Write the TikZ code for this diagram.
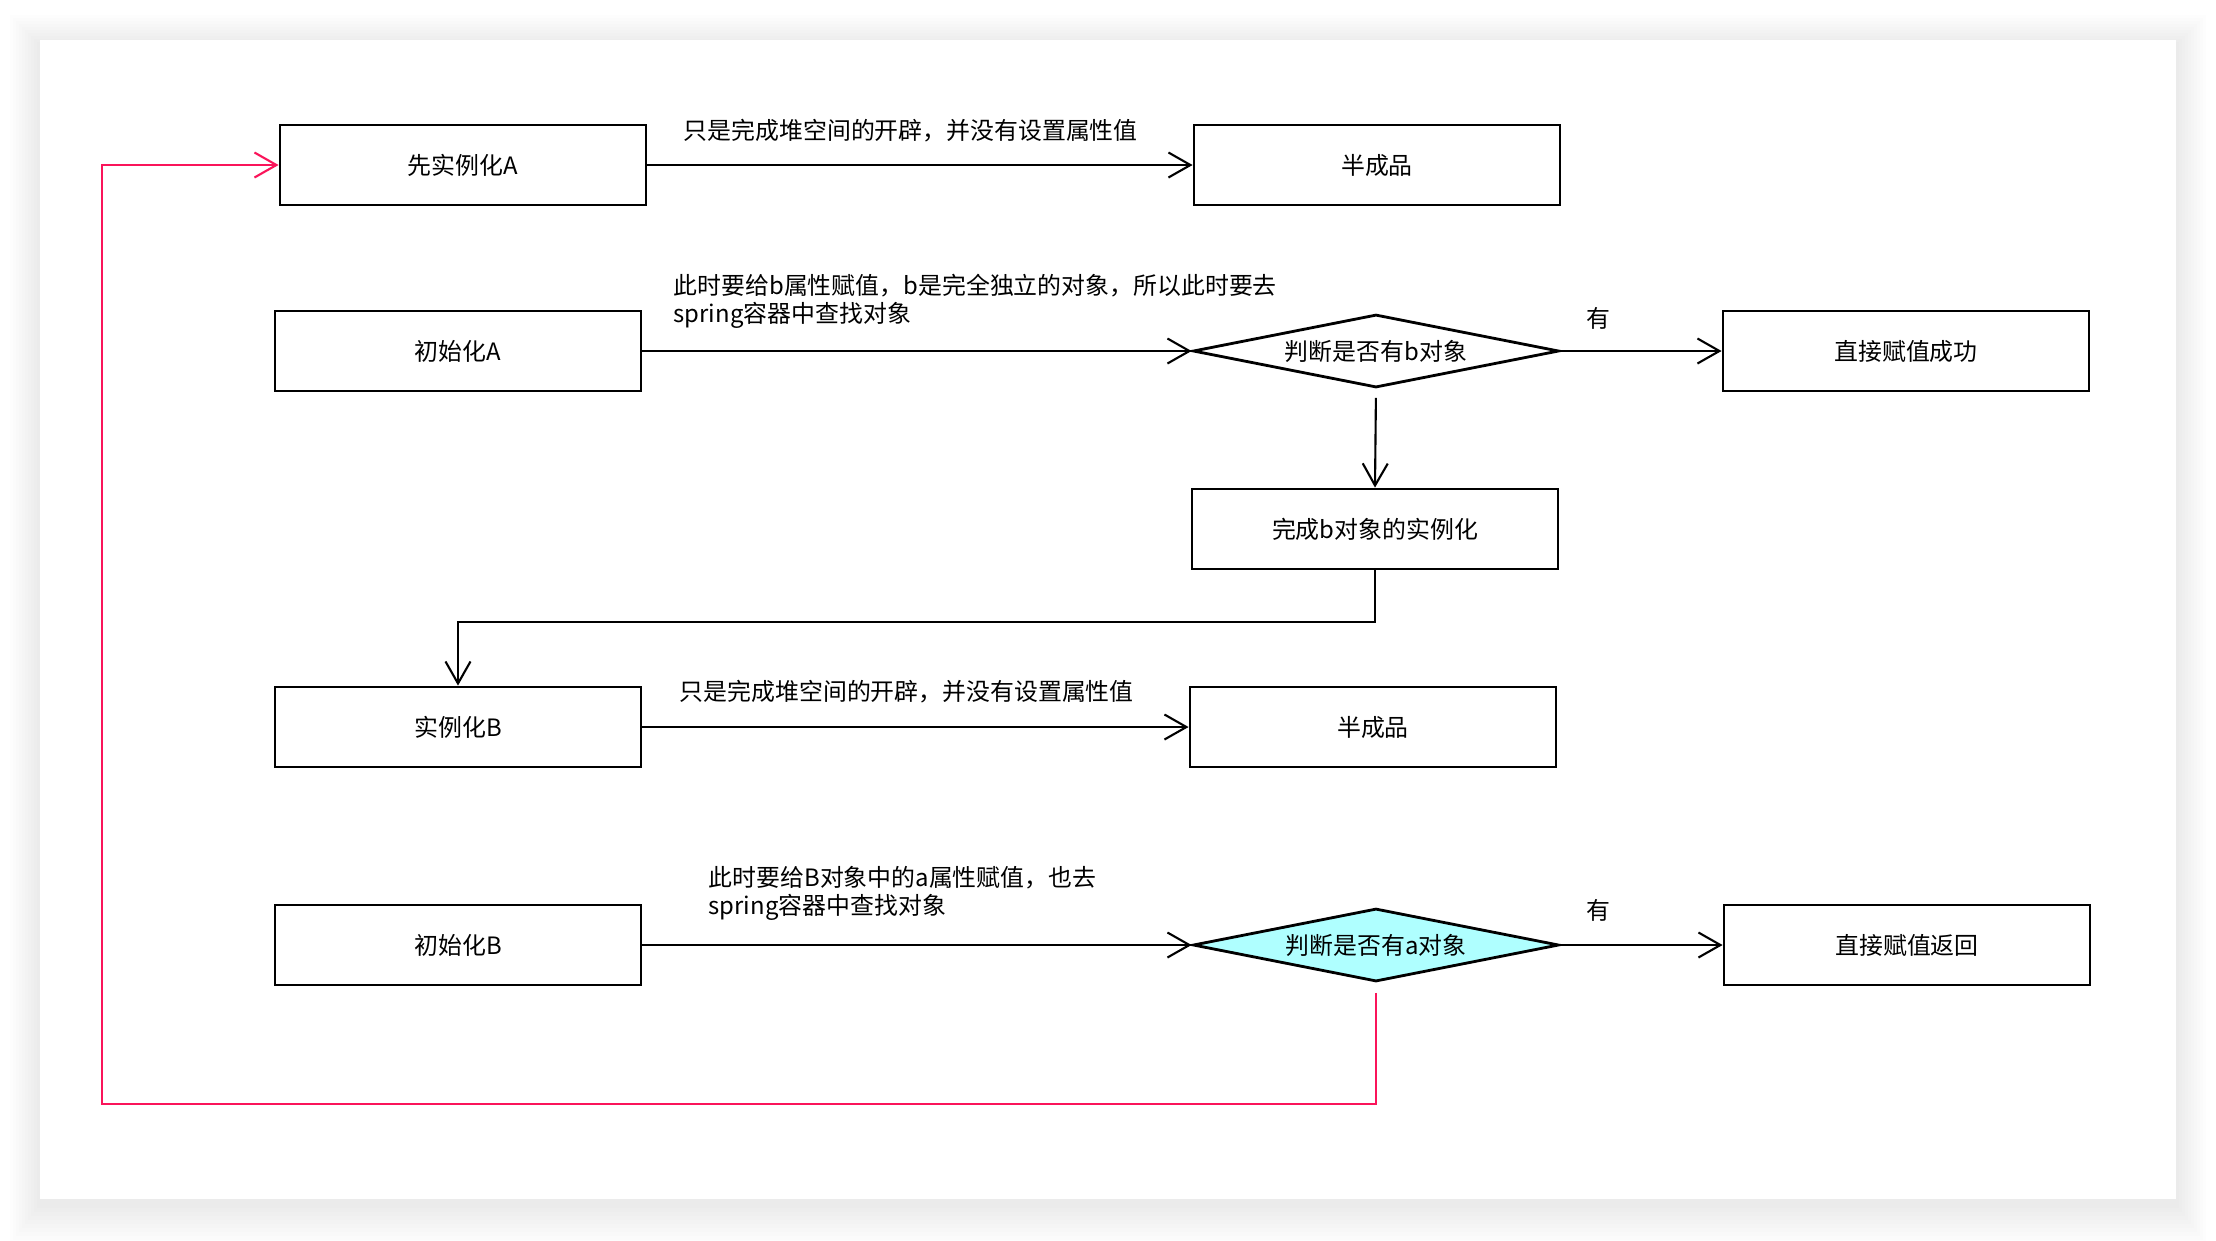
\documentclass[tikz,border=0pt]{standalone}
\usepackage{fontspec}
\setmainfont{Noto Sans CJK SC}
\usetikzlibrary{shapes.geometric,arrows.meta}
\definecolor{loopred}{RGB}{250,20,90}
\definecolor{hitcyan}{RGB}{175,255,255}
\tikzset{>={Straight Barb[length=2.2mm,width=2.5mm]}}
\tikzset{
	box/.style={draw,line width=0.8pt,minimum width=3.66cm,minimum height=0.8cm,inner sep=0pt},
	decide/.style={draw,diamond,aspect=5,line width=0.8pt,minimum width=3.66cm,minimum height=0.73cm,inner sep=0pt},
	note/.style={anchor=west,align=left,inner sep=0pt},
	flow/.style={->,line width=0.6pt}
}

\begin{document}
\begin{tikzpicture}[x=1cm,y=-1cm,every node/.style={font=\fontsize{6.8}{8}\selectfont}]
	\useasboundingbox (0,0) rectangle (22.16,12.40);
	\fill[white] (0,0) rectangle (22.16,12.40);
	\foreach \s in {1,...,10}
		\fill[black,opacity=0.007] (0.40-0.03*\s,0.45-0.03*\s) rectangle (21.76+0.03*\s,12.04+0.04*\s);
	\fill[white] (0.40,0.40) rectangle (21.76,11.99);

	\node[box] (A1) at(4.63,1.65) {先实例化A};
	\node[box] (half1) at(13.77,1.65) {半成品};
	\node[box] (initA) at(4.58,3.51) {初始化A};
	\node[decide] (diaB) at(13.76,3.51) {判断是否有b对象};
	\node[box] (okB) at(19.06,3.51) {直接赋值成功};
	\node[box] (doneB) at(13.75,5.29) {完成b对象的实例化};
	\node[box] (instB) at(4.58,7.27) {实例化B};
	\node[box] (half2) at(13.73,7.27) {半成品};
	\node[box] (initB) at(4.58,9.45) {初始化B};
	\node[decide,fill=hitcyan] (diaA) at(13.76,9.45) {判断是否有a对象};
	\node[box] (okA) at(19.07,9.45) {直接赋值返回};

	\node[note] (lab1) at(6.83,1.31) {只是完成堆空间的开辟，并没有设置属性值};
	\node[note] (lab2) at(6.73,3.01) {此时要给b属性赋值，b是完全独立的对象，所以此时要去\\spring容器中查找对象};
	\node (has1) at(15.98,3.18) {有};
	\node[note] (lab3) at(6.79,6.92) {只是完成堆空间的开辟，并没有设置属性值};
	\node[note] (lab4) at(7.08,8.93) {此时要给B对象中的a属性赋值，也去\\spring容器中查找对象};
	\node (has2) at(15.98,9.10) {有};
	\coordinate (back) at(1.02,11.04);

	\draw[flow] (A1) -- (half1);
	\draw[flow] (initA) -- (diaB);
	\draw[flow] (diaB) -- (okB);
	\draw[flow,shorten <=0.9mm] (diaB.south) -- (doneB.north);
	\draw[flow] (doneB.south) -- ++(0,0.52) -| (instB.north);
	\draw[flow] (instB) -- (half2);
	\draw[flow] (initB) -- (diaA);
	\draw[flow] (diaA) -- (okA);
	\draw[flow,loopred,shorten <=1mm] (diaA.south) |- (back) |- (A1.west);
\end{tikzpicture}
\end{document}
